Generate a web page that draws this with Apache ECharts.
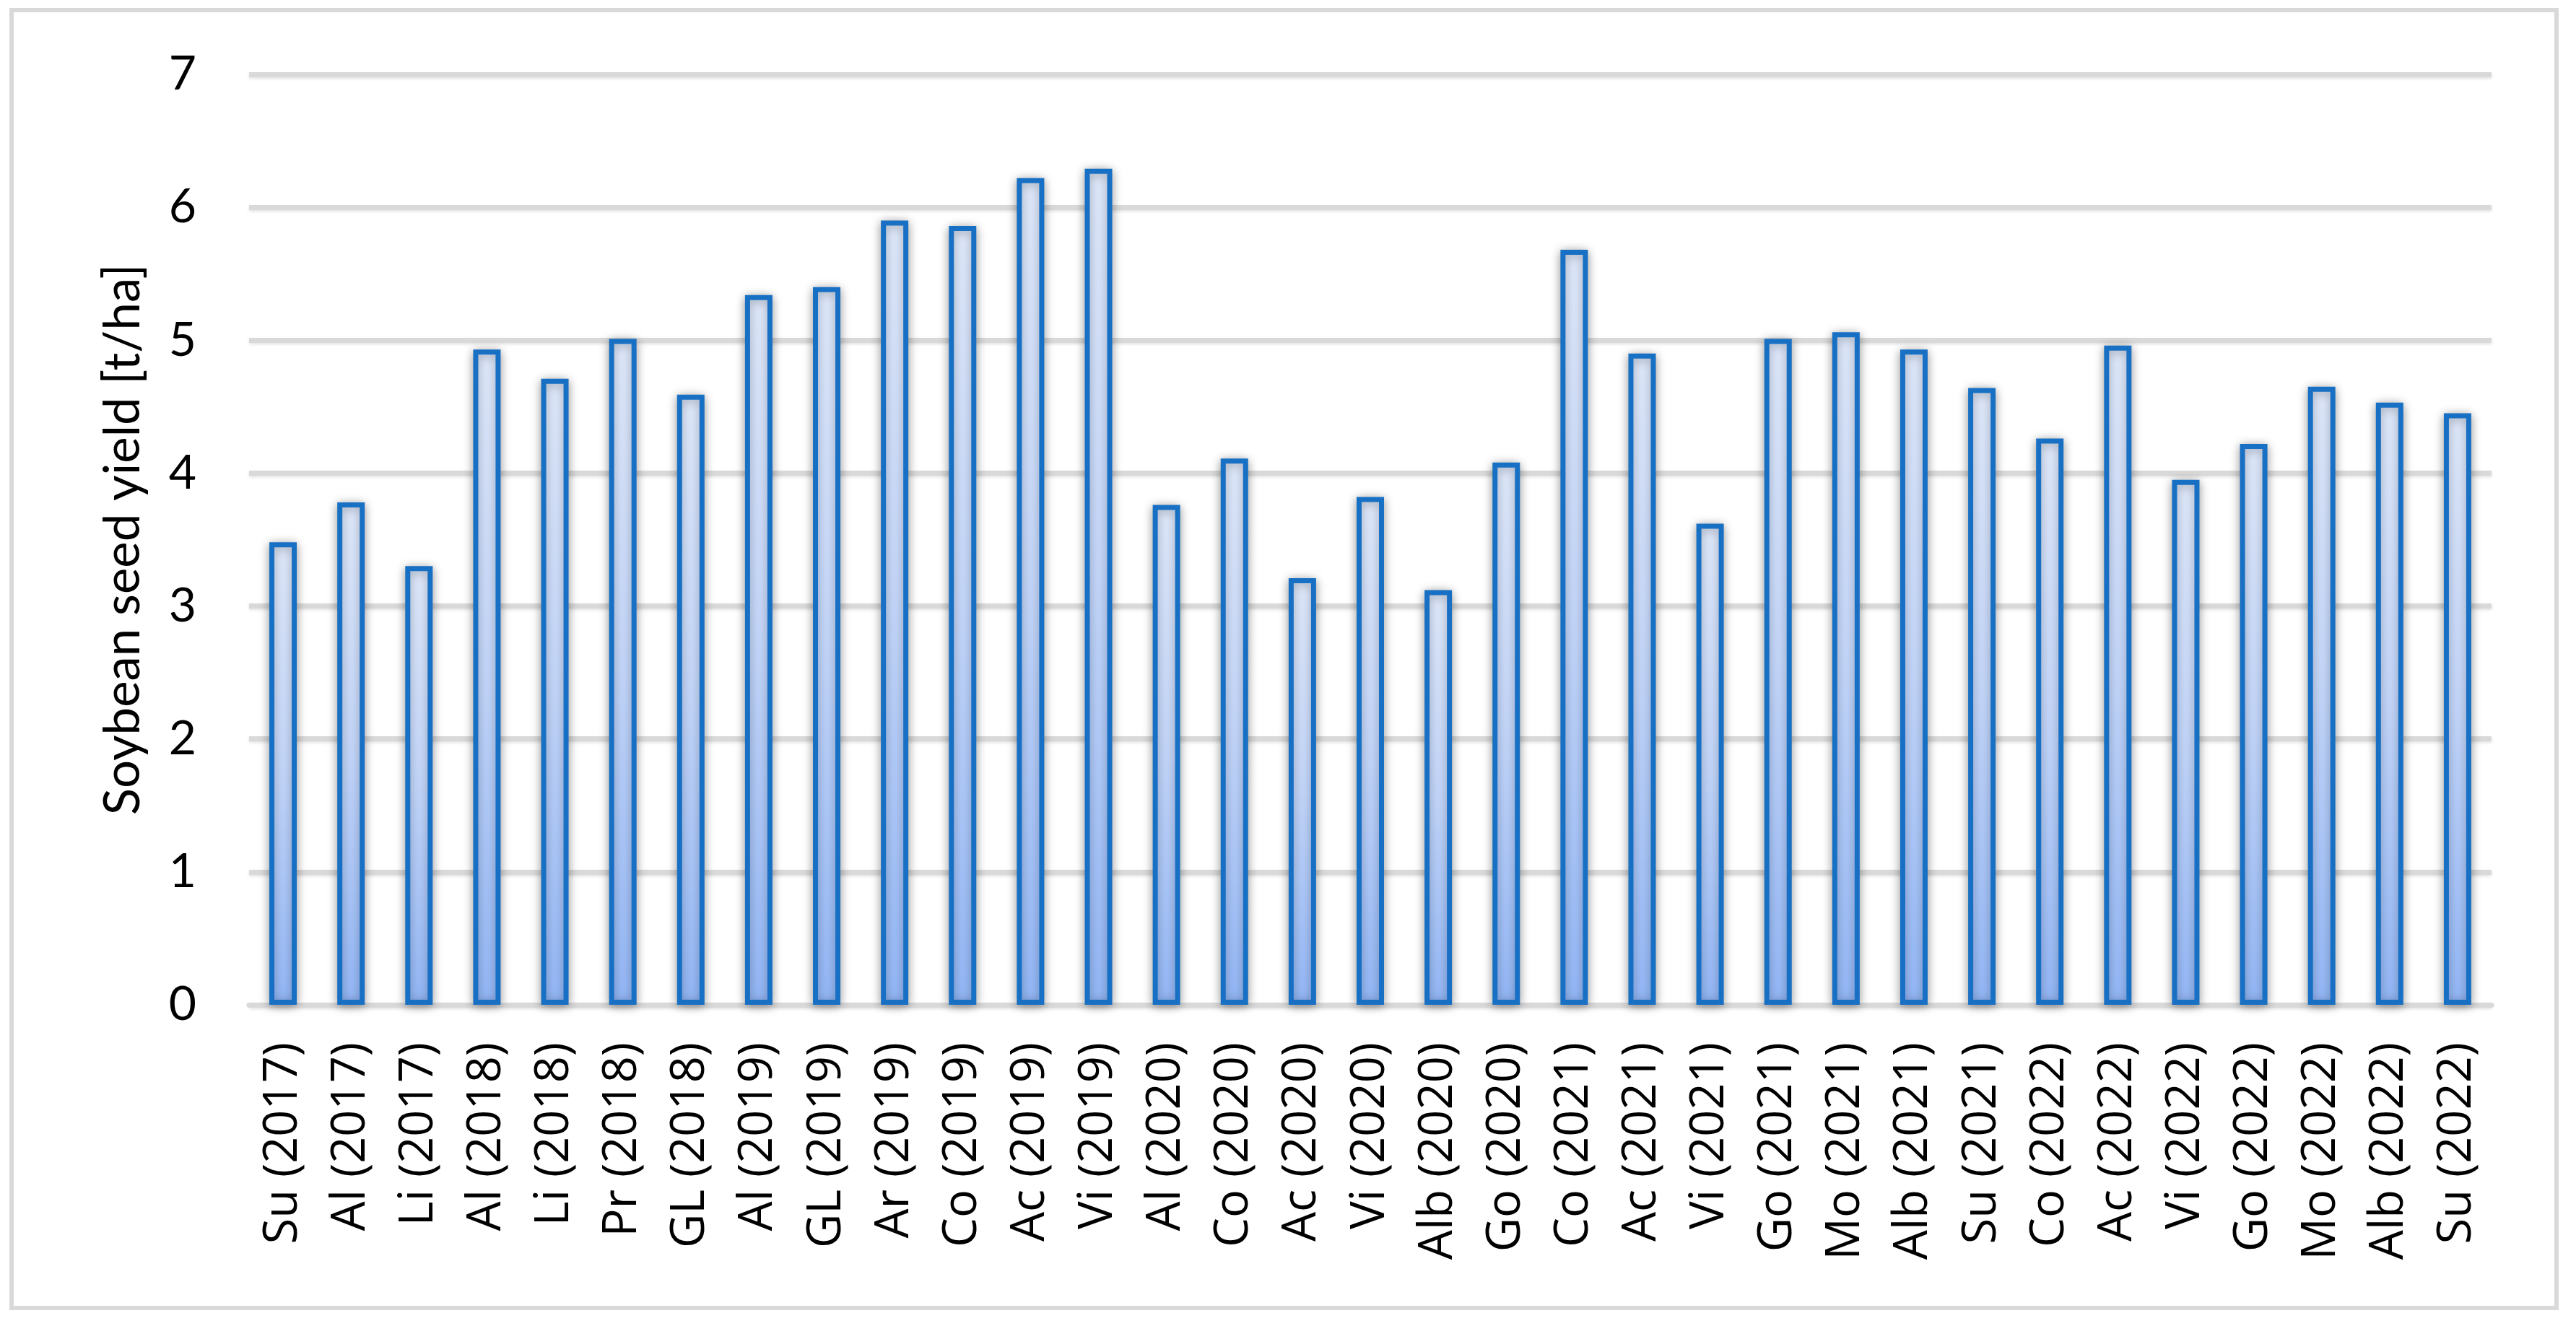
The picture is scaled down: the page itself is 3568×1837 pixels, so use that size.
<!DOCTYPE html>
<html>
<head>
<meta charset="utf-8">
<script src="https://cdn.jsdelivr.net/npm/echarts@6/dist/echarts.min.js"></script>
<style>
  html, body { margin: 0; padding: 0; background: #ffffff; }
  #main { width: 3568px; height: 1837px; }
</style>
</head>
<body>
<div id="main"></div>
<script>
// cultivar (year) on the x axis
var categories = [
    'Su (2017)', 'Al (2017)', 'Li (2017)', 'Al (2018)', 'Li (2018)', 'Pr (2018)', 'GL (2018)',
    'Al (2019)', 'GL (2019)', 'Ar (2019)', 'Co (2019)', 'Ac (2019)', 'Vi (2019)',
    'Al (2020)', 'Co (2020)', 'Ac (2020)', 'Vi (2020)', 'Alb (2020)', 'Go (2020)',
    'Co (2021)', 'Ac (2021)', 'Vi (2021)', 'Go (2021)', 'Mo (2021)', 'Alb (2021)', 'Su (2021)',
    'Co (2022)', 'Ac (2022)', 'Vi (2022)', 'Go (2022)', 'Mo (2022)', 'Alb (2022)', 'Su (2022)'
];
// soybean seed yield, t/ha
var yieldValues = [
    3.48, 3.78, 3.30, 4.93, 4.71, 5.01, 4.59,
    5.34, 5.40, 5.90, 5.86, 6.22, 6.29,
    3.76, 4.11, 3.21, 3.82, 3.12, 4.08,
    5.68, 4.90, 3.62, 5.01, 5.06, 4.93, 4.64,
    4.26, 4.96, 3.95, 4.22, 4.65, 4.53, 4.45
];
var yMin = 0, yMax = 7, yStep = 1;
var yTitle = 'Soybean seed yield [t/ha]';

var chart = echarts.init(document.getElementById('main'));
var option = {
    backgroundColor: '#ffffff',
    animation: false,
    graphic: [{
        type: 'rect',
        shape: { x: 16, y: 14, width: 3525, height: 1798 },
        style: { fill: 'none', stroke: '#d9d9d9', lineWidth: 6 },
        silent: true
    }],
    grid: { left: 345, right: 117, top: 103, bottom: 445 },
    xAxis: {
        type: 'category',
        data: categories,
        boundaryGap: true,
        axisLine: { show: true, lineStyle: { color: '#d9d9d9', width: 7 } },
        axisTick: { show: false },
        axisLabel: {
            interval: 0,
            rotate: 90,
            margin: 52,
            color: '#000000',
            fontFamily: 'Open Sans',
            fontSize: 65
        }
    },
    yAxis: {
        type: 'value',
        min: yMin,
        max: yMax,
        interval: yStep,
        name: yTitle,
        nameLocation: 'middle',
        nameGap: 140,
        nameTextStyle: { color: '#000000', fontFamily: 'Lato', fontSize: 69 },
        axisLine: { show: false },
        axisTick: { show: false },
        axisLabel: { margin: 73, color: '#000000', fontFamily: 'Lato', fontSize: 66 },
        splitLine: {
            lineStyle: {
                color: '#d9d9d9', width: 7,
                shadowBlur: 4, shadowColor: 'rgba(0,0,0,0.12)', shadowOffsetY: 2
            }
        }
    },
    series: [{
        name: yTitle,
        type: 'bar',
        data: yieldValues,
        barWidth: 38,
        itemStyle: {
            color: new echarts.graphic.LinearGradient(0, 0, 0, 1, [
                { offset: 0, color: '#e0eafc' },
                { offset: 0.5, color: '#c4d7fb' },
                { offset: 1, color: '#94b8f8' }
            ]),
            borderColor: '#1870c4',
            borderWidth: 7,
            shadowBlur: 14,
            shadowColor: 'rgba(0,0,0,0.35)',
            shadowOffsetX: 0,
            shadowOffsetY: 2
        }
    }]
};
chart.setOption(option);
</script>
</body>
</html>
